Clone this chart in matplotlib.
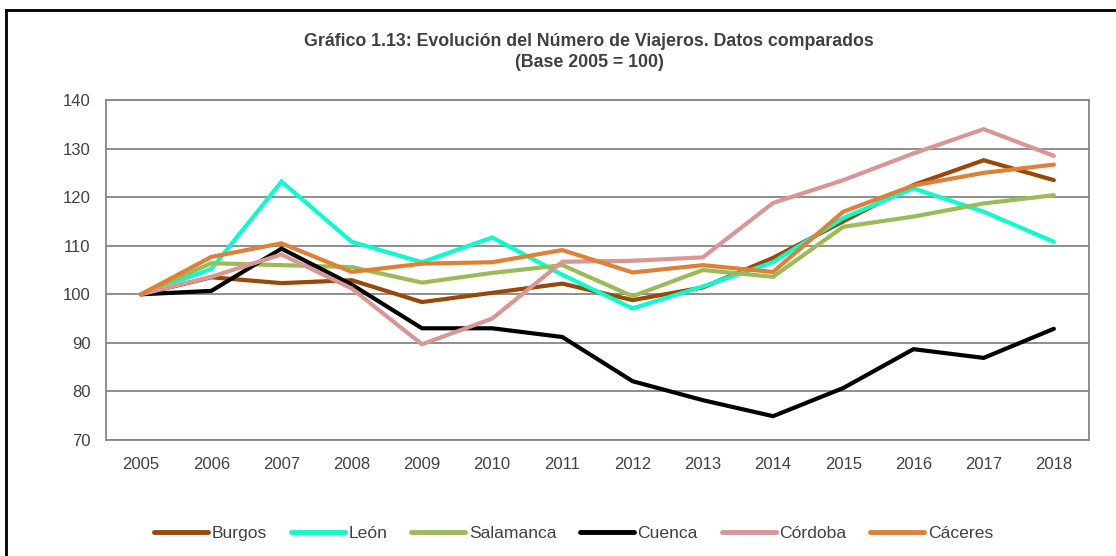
import matplotlib
matplotlib.use("Agg")
import matplotlib.pyplot as plt
from matplotlib.lines import Line2D

# datos (Base 2005 = 100)
years = ["2005", "2006", "2007", "2008", "2009", "2010", "2011",
         "2012", "2013", "2014", "2015", "2016", "2017", "2018"]

burgos = [100, 103.5, 102.3, 102.9, 98.4, 100.3, 102.2, 98.8, 101.4, 107.5, 115.0, 122.5, 127.6, 123.5]
leon = [100, 105.2, 123.2, 110.8, 106.6, 111.7, 104.0, 97.1, 101.6, 106.6, 115.7, 121.8, 117.0, 110.8]
salamanca = [100, 106.4, 106.0, 105.6, 102.4, 104.4, 106.0, 99.6, 105.0, 103.6, 113.9, 116.0, 118.7, 120.4]
cuenca = [100, 100.7, 109.4, 102.0, 93.0, 93.0, 91.2, 82.1, 78.2, 74.9, 80.7, 88.7, 86.9, 92.9]
cordoba = [100, 103.6, 108.2, 101.2, 89.7, 95.0, 106.7, 106.9, 107.6, 118.8, 123.5, 129.0, 134.0, 128.5]
caceres = [100, 107.7, 110.5, 104.6, 106.3, 106.6, 109.1, 104.5, 106.0, 104.6, 117.0, 122.4, 125.0, 126.7]

names = ["Burgos", "León", "Salamanca", "Cuenca", "Córdoba", "Cáceres"]
colors = ["#984807", "#0DFBCD", "#9BBB59", "#000000", "#D99694", "#DE8136"]
series = [burgos, leon, salamanca, cuenca, cordoba, caceres]

narrow = ["Liberation Sans Narrow", "Liberation Sans", "DejaVu Sans"]

fig = plt.figure(figsize=(11.16, 5.56), dpi=100)
ax = fig.add_axes([106 / 1116, 1 - 440 / 556, (1089 - 106) / 1116, 340 / 556])

x = range(len(years))
for vals, name, c in zip(series, names, colors):
    ax.plot(x, vals, color=c, lw=3.0, label=name, solid_capstyle="round", solid_joinstyle="miter")

ax.set_xlim(-0.5, len(years) - 0.5)
ax.set_ylim(70, 140)
ax.set_yticks(range(70, 141, 10))
ax.set_xticks(list(x))
ax.set_xticklabels(years)
ax.grid(axis="y", color="#868686", lw=1.3)
ax.set_axisbelow(True)
for s in ax.spines.values():
    s.set_color("#868686")
    s.set_linewidth(1.3)
ax.tick_params(length=0, labelsize=12, colors="#404040")
ax.tick_params(axis="y", pad=11)
ax.tick_params(axis="x", pad=12.5)
for lab in ax.get_xticklabels() + ax.get_yticklabels():
    lab.set_family(narrow)

title_font = dict(ha="center", va="center", fontsize=12.8, fontweight="bold", color="#404040",
                  family=["Liberation Sans", "DejaVu Sans"])
fig.text(0.528, 1 - 41 / 556, "Gráfico 1.13: Evolución del Número de Viajeros. Datos comparados", **title_font)
fig.text(0.528, 1 - 62.5 / 556, "(Base 2005 = 100)", **title_font)

leg = fig.legend(loc="center", bbox_to_anchor=(0.514, 1 - 533 / 556), ncol=6, frameon=False,
                 handlelength=3.1, handletextpad=0.2, columnspacing=1.35,
                 prop={"family": narrow, "size": 12.6})
for t in leg.get_texts():
    t.set_color("#404040")
for h in leg.get_lines():
    h.set_linewidth(3.5)

# marco exterior
fig.add_artist(Line2D([6 / 1116, 6 / 1116], [0, 1 - 10 / 556], transform=fig.transFigure, color="black", lw=2))
fig.add_artist(Line2D([6 / 1116, 1], [1 - 10 / 556, 1 - 10 / 556], transform=fig.transFigure, color="black", lw=2))

fig.savefig("out.png", dpi=100)
